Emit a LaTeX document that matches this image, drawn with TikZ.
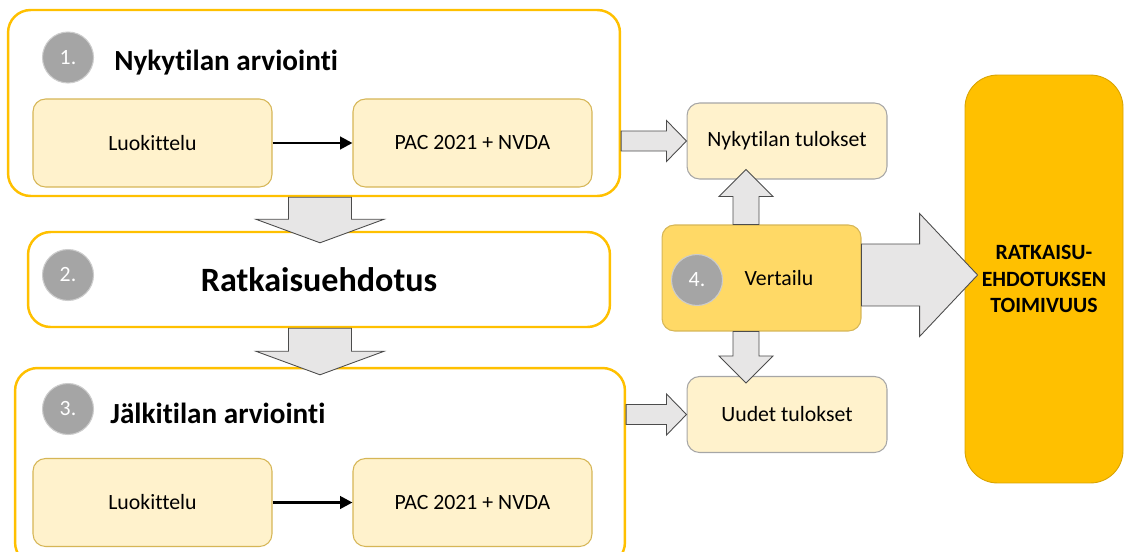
\documentclass[tikz,border=0pt]{standalone}
\usepackage{fontspec}
\setmainfont[Ligatures=NoCommon]{Carlito}
\usepackage{tikz}
\usetikzlibrary{arrows.meta, calc, positioning}
\definecolor{gold}{HTML}{FFC000}
\definecolor{creme}{HTML}{FFF2CC}
\definecolor{rand}{HTML}{D6B656}
\definecolor{sonne}{HTML}{FFD966}
\definecolor{kreis}{HTML}{A5A5A5}
\definecolor{pfeilgrau}{HTML}{E7E6E6}

% Blockpfeil: Start, Spitze, halbe Schaftbreite, halbe Kopfbreite, Kopflaenge
\newcommand{\blockpfeil}[5]{%
  \path ($(#2)!#5!(#1)$) coordinate (pb);
  \draw[grau]
    ($(#1)!#3!90:(#2)$) -- ($(pb)!#3!90:(#2)$) -- ($(pb)!#4!90:(#2)$) --
    (#2) -- ($(pb)!#4!-90:(#2)$) -- ($(pb)!#3!-90:(#2)$) --
    ($(#1)!#3!-90:(#2)$) -- cycle;}

\begin{document}
\begin{tikzpicture}[x=0.02cm, y=-0.02cm,
        rahmen/.style={draw=gold, line width=1.4pt, rounded corners=0.45cm,
                       fill=white, inner sep=0pt},
        kasten/.style={draw=rand, line width=0.6pt, fill=creme, rounded corners=0.25cm,
                       minimum width=4.78cm, minimum height=1.76cm,
                       font=\fontsize{12.4}{15}\selectfont},
        ergebnis/.style={kasten, draw=gray!70, minimum width=4cm, minimum height=1.52cm},
        vergleich/.style={kasten, fill=sonne, minimum width=3.98cm, minimum height=2.12cm},
        ziel/.style={draw=gold!85!black, line width=0.5pt, fill=gold, rounded corners=0.65cm,
                     minimum width=3.16cm, minimum height=8.16cm, align=center,
                     font=\bfseries\fontsize{12.4}{15.3}\selectfont},
        nummer/.style={circle, fill=kreis, draw=gray!40, line width=0.6pt,
                       minimum size=1.02cm, inner sep=0pt, text=white,
                       font=\fontsize{12.4}{15}\selectfont},
        titel/.style={anchor=west, inner sep=0pt, font=\bfseries\fontsize{16.6}{20}\selectfont},
        pfeil/.style={-{Triangle[length=7pt, width=7pt]}, line width=1.6pt},
        grau/.style={draw=black!70, line width=0.5pt, fill=pfeilgrau}
      ]
      \useasboundingbox (0,0) rectangle (1124,551);
      \clip (0,0) rectangle (1124,551);

      % Rahmen links
      \node[rahmen, minimum width=12.24cm, minimum height=3.72cm] (b1) at (314,103) {};
      \node[rahmen, minimum width=11.64cm, minimum height=1.9cm,
            font=\bfseries\fontsize{19.4}{23}\selectfont] (b2) at (319,279.5) {Ratkaisuehdotus};
      \node[rahmen, minimum width=12.2cm, minimum height=3.94cm] (b3) at (320,466.5) {};

      % Nummern und Titel
      \node[nummer] (n1) at (68,57.5) {1.};
      \node[titel] (t1) at (114,63) {Nykytilan arviointi};
      \node[nummer] (n2) at (68,275) {2.};
      \node[nummer] (n3) at (68,409) {3.};
      \node[titel] (t3) at (110,413) {Jälkitilan arviointi};

      % Schritte innen
      \node[kasten] (l1) at (152.5,143) {Luokittelu};
      \node[kasten, right=1.6cm of l1] (p1) {PAC 2021 + NVDA};
      \node[kasten] (l2) at (152.5,502.5) {Luokittelu};
      \node[kasten, right=1.6cm of l2] (p2) {PAC 2021 + NVDA};

      % Ergebnisse rechts
      \node[ergebnis] (nyk) at (787,141) {Nykytilan tulokset};
      \node[ergebnis] (uud) at (787,414.5) {Uudet tulokset};
      \node[vergleich, label={[xshift=0.35cm, font=\fontsize{12.4}{15}\selectfont]center:Vertailu}]
           (vert) at (761.5,278) {};
      \node[nummer] (n4) at (697,280) {4.};
      \node[ziel] (ratk) at (1044,279) {RATKAISU-\\EHDOTUKSEN\\TOIMIVUUS};

      % Pfeile
      \draw[pfeil] (l1) -- (p1);
      \draw[pfeil] (l2) -- (p2);

      \coordinate (mitte) at (320,0);
      \coordinate (spalte) at (746,0);
      \path (b1.south -| mitte) coordinate (a1) ($(b2.north -| mitte)+(0,12)$) coordinate (a2);
      \path (b2.south -| mitte) coordinate (a3) ($(b3.north -| mitte)+(0,8)$) coordinate (a4);
      \path (b1.east |- nyk.west) coordinate (r1) (nyk.west) coordinate (r2);
      \path (b3.east |- uud.west) coordinate (r3) (uud.west) coordinate (r4);
      \path (vert.north -| spalte) coordinate (v1) ($(nyk.south -| spalte)+(0,-10)$) coordinate (v2);
      \path (vert.south -| spalte) coordinate (v3) ($(uud.north -| spalte)+(0,7)$) coordinate (v4);
      \path ($(vert.east)+(0,-3)$) coordinate (g1) ($(ratk.west |- g1)+(13,0)$) coordinate (g2);

      \blockpfeil{a1}{a2}{0.63cm}{1.28cm}{0.47cm}
      \blockpfeil{a3}{a4}{0.63cm}{1.28cm}{0.47cm}
      \blockpfeil{r1}{r2}{0.2cm}{0.41cm}{0.4cm}
      \blockpfeil{r3}{r4}{0.2cm}{0.41cm}{0.4cm}
      \blockpfeil{v1}{v2}{0.26cm}{0.54cm}{0.54cm}
      \blockpfeil{v3}{v4}{0.26cm}{0.54cm}{0.54cm}
      \blockpfeil{g1}{g2}{0.62cm}{1.23cm}{1.16cm}
    \end{tikzpicture}
\end{document}
